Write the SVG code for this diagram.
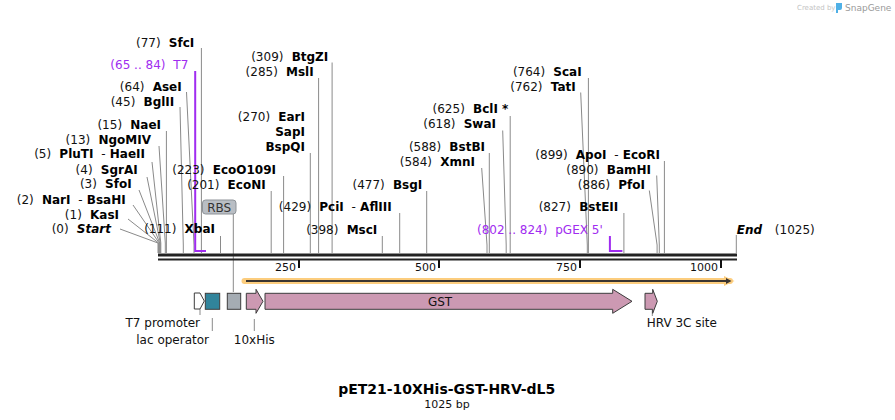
<svg xmlns="http://www.w3.org/2000/svg" width="895" height="420" viewBox="0 0 895 420">
<style>
text{font-family:"DejaVu Sans",Verdana,sans-serif;font-size:12px;fill:#111}
.b{font-weight:bold;fill:#000}
.bi{font-weight:bold;font-style:italic;fill:#000}
.pur{fill:#a02cf0}
.ln{stroke:#8a8a8a;stroke-width:1;fill:none}
.pl{stroke:#a02cf0;stroke-width:2;fill:none}
.tk{stroke:#111;stroke-width:2}
.num{font-size:11px}
.feat{stroke:#3c3c3c;stroke-width:1}
.pink{fill:#cc99b2}
</style>
<rect width="895" height="420" fill="#fff"/>
<g id="logo">
<text x="797" y="10" style="font-size:7px;fill:#c4c4c4">Created by</text>
<path d="M836 3 h6 v5 q0 2 -2 2 h-2 v3 h-2 z" fill="#4fb0e6"/>
<text x="845" y="10.5" style="font-size:9px;fill:#9a9a9a">SnapGene</text>
</g>
<g id="connectors">
<polyline class="ln" points="120,229 158,243 158,253"/>
<polyline class="ln" points="128,219 158.6,243 158.6,253"/>
<polyline class="ln" points="133,205 159.2,243 159.2,253"/>
<polyline class="ln" points="139,190 159.7,243 159.7,253"/>
<polyline class="ln" points="147,177 160.3,243 160.3,253"/>
<polyline class="ln" points="152,162 160.8,243 160.8,253"/>
<polyline class="ln" points="159,146 165.3,243 165.3,253"/>
<polyline class="ln" points="166.4,131 166.4,253"/>
<polyline class="ln" points="180,107 183.3,245 183.3,253"/>
<polyline class="ln" points="186.5,92 194,245 194,253"/>
<polyline class="ln" points="201.4,48 201.4,253"/>
<polyline class="ln" points="220.5,236 220.5,253"/>
<polyline class="ln" points="271.2,191 271.2,253"/>
<polyline class="ln" points="283.6,176 283.6,253"/>
<polyline class="ln" points="310.3,153 310.3,253"/>
<polyline class="ln" points="318.6,78 318.6,253"/>
<polyline class="ln" points="332.1,62.5 332.1,253"/>
<polyline class="ln" points="382.3,236 382.3,253"/>
<polyline class="ln" points="399.7,213 399.7,253"/>
<polyline class="ln" points="426.7,191 426.7,253"/>
<polyline class="ln" points="481.7,168 487,245 487,253"/>
<polyline class="ln" points="489.3,153 489.3,253"/>
<polyline class="ln" points="502.7,130.5 506.2,245 506.2,253"/>
<polyline class="ln" points="510.2,116 510.2,253"/>
<polyline class="ln" points="580.7,92.5 587.3,245 587.3,253"/>
<polyline class="ln" points="588.4,78 588.4,253"/>
<polyline class="ln" points="623.9,213 623.9,253"/>
<polyline class="ln" points="649.3,190.5 657.1,245 657.1,253"/>
<polyline class="ln" points="656.7,175.5 659.3,245 659.3,253"/>
<polyline class="ln" points="664.4,161 664.4,253"/>
<polyline class="ln" points="736.3,235 736.3,253"/>
<line class="ln" x1="233.3" y1="214" x2="233.3" y2="292"/>
<polyline class="pl" points="195.2,71 195.2,251 206,251"/>
<polyline class="pl" points="609.9,236 609.9,251 622.4,251"/>
<line class="ln" x1="200" y1="309" x2="200" y2="315"/>
<line class="ln" x1="212.3" y1="318" x2="212.3" y2="331"/>
<line class="ln" x1="254.3" y1="319" x2="254.3" y2="331"/>
<line class="ln" x1="652.3" y1="310" x2="652.3" y2="316"/>
</g>
<g id="ruler">
<rect x="158" y="253.5" width="579" height="3" fill="#222"/>
<rect x="158" y="258.5" width="579" height="2" fill="#222"/>
<line class="tk" x1="299" y1="260" x2="299" y2="268"/>
<line class="tk" x1="439" y1="260" x2="439" y2="268"/>
<line class="tk" x1="580" y1="260" x2="580" y2="268"/>
<line class="tk" x1="721" y1="260" x2="721" y2="268"/>
<text class="num" x="296" y="271" text-anchor="end">250</text>
<text class="num" x="436" y="271" text-anchor="end">500</text>
<text class="num" x="577" y="271" text-anchor="end">750</text>
<text class="num" x="718" y="271" text-anchor="end">1000</text>
</g>
<g id="orf">
<line x1="244.5" y1="281" x2="730" y2="281" stroke="#fccd7e" stroke-width="6" stroke-linecap="round"/>
<path d="M724 276 L734.5 281 L724 286 Z" fill="#fccd7e"/>
<line x1="246" y1="281" x2="727" y2="281" stroke="#3a3430" stroke-width="1.8"/>
<path d="M726 278 L731.5 281 L726 284 Z" fill="#3a3430"/>
</g>
<g id="t7promoter">
<path class="feat" d="M194.3 293 H200 L204.3 301 L200 309 H194.3 Z" fill="#fff"/>
<text x="200" y="327" text-anchor="end">T7 promoter</text>
</g>
<g id="lacoperator">
<rect class="feat" x="205.3" y="293.3" width="14.4" height="16" fill="#31849b"/>
<text x="209" y="343.5" text-anchor="end">lac operator</text>
</g>
<g id="rbs">
<rect class="feat" x="227.3" y="293.3" width="13.4" height="16" fill="#a5acb3"/>
<rect x="202.5" y="200" width="33.5" height="14" rx="3" fill="#b9bec4" stroke="#8e9398"/>
<text x="219.2" y="211.5" text-anchor="middle" style="fill:#333">RBS</text>
</g>
<g id="his10">
<path class="feat pink" d="M246.3 293.3 H256 V289.3 L263 301.3 L256 313.3 V309.3 H246.3 Z"/>
<text x="254.3" y="343.5" text-anchor="middle">10xHis</text>
</g>
<g id="gst">
<path class="feat pink" d="M265 293.3 H612.7 V289.3 L632 301.3 L612.7 313.3 V309.3 H265 Z"/>
<text x="440" y="305.5" text-anchor="middle">GST</text>
</g>
<g id="hrv3c">
<path class="feat pink" d="M645 293.3 H652.7 V289.3 L657.3 301.3 L652.7 313.3 V309.3 H645 Z"/>
<text x="646.7" y="327">HRV 3C site</text>
</g>
<g id="sites-left">
<text x="194.3" y="46.5" text-anchor="end">(77)<tspan class="b" dx="4"> SfcI</tspan></text>
<text x="188.3" y="68.5" text-anchor="end" class="pur">(65 .. 84)<tspan dx="4"> T7</tspan></text>
<text x="181.7" y="90.7" text-anchor="end">(64)<tspan class="b" dx="4"> AseI</tspan></text>
<text x="174.3" y="105.7" text-anchor="end">(45)<tspan class="b" dx="4"> BglII</tspan></text>
<text x="161" y="129" text-anchor="end">(15)<tspan class="b" dx="4"> NaeI</tspan></text>
<text x="151" y="144" text-anchor="end">(13)<tspan class="b" dx="4"> NgoMIV</tspan></text>
<text x="145" y="158.3" text-anchor="end">(5)<tspan class="b" dx="4"> PluTI</tspan><tspan dx="4"> -</tspan><tspan class="b"> HaeII</tspan></text>
<text x="137.7" y="174" text-anchor="end">(4)<tspan class="b" dx="4"> SgrAI</tspan></text>
<text x="131.7" y="188.3" text-anchor="end">(3)<tspan class="b" dx="4"> SfoI</tspan></text>
<text x="125.7" y="204" text-anchor="end">(2)<tspan class="b" dx="4"> NarI</tspan><tspan dx="4"> -</tspan><tspan class="b"> BsaHI</tspan></text>
<text x="119" y="219" text-anchor="end">(1)<tspan class="b" dx="4"> KasI</tspan></text>
<text x="111" y="233.3" text-anchor="end">(0)<tspan class="bi" dx="4"> Start</tspan></text>
<text x="215" y="233.3" text-anchor="end">(111)<tspan class="b" dx="4"> XbaI</tspan></text>
</g>
<g id="sites-middle">
<text x="276" y="174" text-anchor="end">(223)<tspan class="b" dx="4"> EcoO109I</tspan></text>
<text x="265.7" y="189.3" text-anchor="end">(201)<tspan class="b" dx="4"> EcoNI</tspan></text>
<text x="328.3" y="60.7" text-anchor="end">(309)<tspan class="b" dx="4"> BtgZI</tspan></text>
<text x="313.7" y="76.3" text-anchor="end">(285)<tspan class="b" dx="4"> MslI</tspan></text>
<text x="305" y="121.3" text-anchor="end">(270)<tspan class="b" dx="4"> EarI</tspan></text>
<text x="305" y="135.8" text-anchor="end" class="b">SapI</text>
<text x="305" y="150.7" text-anchor="end" class="b">BspQI</text>
<text x="391.7" y="210.7" text-anchor="end">(429)<tspan class="b" dx="4"> PciI</tspan><tspan dx="4"> -</tspan><tspan class="b"> AflIII</tspan></text>
<text x="377.3" y="234" text-anchor="end">(398)<tspan class="b" dx="4"> MscI</tspan></text>
<text x="422.3" y="189.3" text-anchor="end">(477)<tspan class="b" dx="4"> BsgI</tspan></text>
</g>
<g id="sites-right">
<text x="581.7" y="76.3" text-anchor="end">(764)<tspan class="b" dx="4"> ScaI</tspan></text>
<text x="575.7" y="90.7" text-anchor="end">(762)<tspan class="b" dx="4"> TatI</tspan></text>
<text x="508.3" y="113.3" text-anchor="end">(625)<tspan class="b" dx="4"> BclI *</tspan></text>
<text x="496" y="128.3" text-anchor="end">(618)<tspan class="b" dx="4"> SwaI</tspan></text>
<text x="485" y="151.3" text-anchor="end">(588)<tspan class="b" dx="4"> BstBI</tspan></text>
<text x="475" y="165.7" text-anchor="end">(584)<tspan class="b" dx="4"> XmnI</tspan></text>
<text x="660" y="159" text-anchor="end">(899)<tspan class="b" dx="4"> ApoI</tspan><tspan dx="4"> -</tspan><tspan class="b"> EcoRI</tspan></text>
<text x="651" y="174" text-anchor="end">(890)<tspan class="b" dx="4"> BamHI</tspan></text>
<text x="645" y="189" text-anchor="end">(886)<tspan class="b" dx="4"> PfoI</tspan></text>
<text x="618.3" y="210.7" text-anchor="end">(827)<tspan class="b" dx="4"> BstEII</tspan></text>
<text x="602.7" y="234" text-anchor="end" class="pur">(802 .. 824)<tspan dx="4"> pGEX 5'</tspan></text>
<text x="736.7" y="234"><tspan class="bi">End</tspan><tspan dx="9"> (1025)</tspan></text>
</g>
<g id="title">
<text x="446.7" y="393.5" text-anchor="middle" class="b" style="font-size:14px">pET21-10XHis-GST-HRV-dL5</text>
<text x="447" y="407.5" text-anchor="middle" style="font-size:11px">1025 bp</text>
</g>
</svg>
